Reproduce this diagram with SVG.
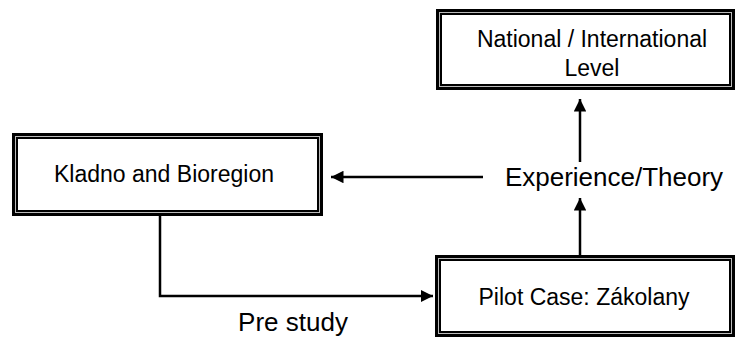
<svg xmlns="http://www.w3.org/2000/svg" width="736" height="338" viewBox="0 0 736 338">
<style>
.outer{fill:#fff;stroke:#000;stroke-width:3}
.gap{fill:none;stroke:#bbb;stroke-width:1}
.inner{fill:#fff;stroke:#000;stroke-width:2}
.t{font-family:"Liberation Sans",Arial,sans-serif;font-size:23px;fill:#000;text-anchor:middle}
.big{font-family:"Liberation Sans",Arial,sans-serif;font-size:26px;fill:#000;text-anchor:middle}
.c{fill:none;stroke:#000;stroke-width:2.5}
</style>
<defs>
<marker id="ah" viewBox="0 0 10 10" refX="10" refY="5" markerWidth="5" markerHeight="5" orient="auto" markerUnits="strokeWidth">
<path d="M0,0 L10,5 L0,10 z" fill="#000"/>
</marker>
</defs>
<rect width="736" height="338" fill="#fff"/>
<g id="national">
<rect class="outer" x="437.5" y="10.5" width="296" height="78"/>
<rect class="gap" x="439.5" y="12.5" width="292" height="74"/>
<rect class="inner" x="441" y="14" width="289" height="71"/>
<text class="t" x="592" y="47">National / International</text>
<text class="t" x="592" y="76">Level</text>
</g>
<g id="kladno">
<rect class="outer" x="13.5" y="134.5" width="308" height="80"/>
<rect class="gap" x="15.5" y="136.5" width="304" height="76"/>
<rect class="inner" x="17" y="138" width="301" height="73"/>
<text class="t" x="164" y="182">Kladno and Bioregion</text>
</g>
<g id="pilot">
<rect class="outer" x="436.5" y="256.5" width="297" height="79"/>
<rect class="gap" x="438.5" y="258.5" width="293" height="75"/>
<rect class="inner" x="440" y="260" width="290" height="72"/>
<text class="t" x="584" y="305">Pilot Case: Zákolany</text>
</g>
<g id="labels">
<text class="big" x="614" y="186">Experience/Theory</text>
<text class="big" x="293" y="331">Pre study</text>
</g>
<g id="connectors">
<path class="c" d="M160,216 V296 H433" marker-end="url(#ah)"/>
<path class="c" d="M580,255 V198" marker-end="url(#ah)"/>
<path class="c" d="M580,162 V99" marker-end="url(#ah)"/>
<path class="c" d="M483,177 H331" marker-end="url(#ah)"/>
</g>
</svg>
